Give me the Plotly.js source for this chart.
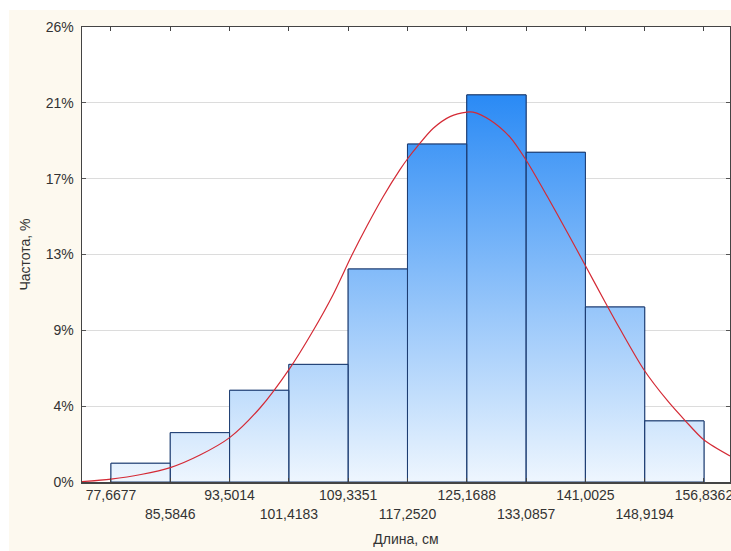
<!DOCTYPE html>
<html>
<head>
<meta charset="utf-8">
<script src="https://cdn.plot.ly/plotly-3.0.1.min.js"></script>
<style>html,body{margin:0;padding:0;background:#fff;}#chart{width:731px;height:551px;}</style>
</head>
<body>
<div id="chart"></div>
<script>
// Bin edges (cm) and tick labels
const binEdges = [77.6677, 85.5846, 93.5014, 101.4183, 109.3351, 117.2520, 125.1688, 133.0857, 141.0025, 148.9194, 156.8362];
const xTickLabels = ['77,6677','85,5846','93,5014','101,4183','109,3351','117,2520','125,1688','133,0857','141,0025','148,9194','156,8362'];
// Bar frequencies, %
const freqPct = [1.07, 2.82, 5.24, 6.72, 12.17, 19.31, 22.12, 18.84, 10.0, 3.49];
// Fitted curve
const curveX = [73.80, 77.67, 81.67, 85.58, 89.55, 93.55, 97.56, 101.56, 104.63, 107.30, 109.84, 111.84, 113.98, 116.25, 117.32, 118.52, 120.66, 122.93, 125.20, 126.00, 128.27, 130.94, 133.08, 135.89, 138.56, 140.96, 143.63, 145.63, 148.84, 151.99, 154.26, 156.84, 160.31];
const curveY = [0.02, 0.17, 0.43, 0.82, 1.54, 2.55, 4.23, 6.51, 8.63, 10.69, 12.97, 14.63, 16.29, 17.85, 18.50, 19.15, 20.20, 20.88, 21.14, 21.14, 20.69, 19.71, 18.40, 16.34, 14.29, 12.40, 10.29, 8.74, 6.40, 4.63, 3.54, 2.40, 1.49];
// Y tick labels
const yTickLabels = ['0%','4%','9%','13%','17%','21%','26%'];
const yMax = 26;

const binW = binEdges[1] - binEdges[0];
const centers = freqPct.map((_, i) => (binEdges[i] + binEdges[i + 1]) / 2);

// gradient fill polygons built from bin edges and heights
const gx = [], gy = [];
freqPct.forEach((h, i) => {
  const a = binEdges[i], b = binEdges[i + 1];
  gx.push(a, a, b, b, a, null);
  gy.push(0, h, h, 0, 0, null);
});

const font = {family: 'Liberation Sans, Arial, sans-serif', size: 14, color: '#333'};
const yTickVals = yTickLabels.map((_, i) => i * yMax / (yTickLabels.length - 1));

const traces = [
  {
    type: 'scatter', mode: 'lines', x: gx, y: gy, fill: 'toself',
    line: {color: '#1d3d72', width: 1},
    fillgradient: {type: 'vertical', start: 0, stop: Math.max(...freqPct),
      colorscale: [[0, '#eef6fe'], [1, '#2a8af5']]},
    hoverinfo: 'skip', showlegend: false
  },
  {
    type: 'bar', x: centers, y: freqPct, width: binW,
    marker: {color: 'rgba(0,0,0,0)', line: {color: '#1d3d72', width: 1}},
    showlegend: false
  },
  {
    type: 'scatter', mode: 'lines', x: curveX, y: curveY,
    line: {color: '#d42a35', width: 1.2, shape: 'spline', smoothing: 0.8},
    showlegend: false
  }
];

const layout = {
  width: 731, height: 551,
  margin: {l: 82, r: 1, t: 27, b: 69, pad: 0},
  paper_bgcolor: '#fdf9ef', plot_bgcolor: '#ffffff',
  font: font, bargap: 0,
  xaxis: {
    range: [73.80, 160.31], showgrid: false, zeroline: false,
    tickmode: 'array', tickvals: binEdges,
    ticktext: xTickLabels.map((t, i) => i % 2 ? '<br>' + t : t),
    tickangle: 0,
    ticks: 'inside', ticklen: 4, tickcolor: '#444',
    showline: true, mirror: 'ticks', linecolor: '#444', linewidth: 1.5,
    tickfont: font, ticklabeloverflow: 'allow',
    title: {text: 'Длина, см', font: font, standoff: 13}
  },
  yaxis: {
    range: [0, yMax], zeroline: false,
    tickmode: 'array', tickvals: yTickVals, ticktext: yTickLabels,
    showgrid: true, gridcolor: '#dcdcdc', gridwidth: 1,
    ticks: 'inside', ticklen: 4, tickcolor: '#555',
    showline: true, mirror: 'ticks', linecolor: '#444', linewidth: 1.5,
    tickfont: font, ticklabelstandoff: 4,
    title: {text: 'Частота, %', font: font, standoff: 12}
  },
  shapes: [
    {type: 'rect', xref: 'paper', yref: 'paper', x0: -0.2, x1: -73 / 648, y0: -0.5, y1: 1.2,
     fillcolor: '#ffffff', line: {width: 0}, layer: 'below'},
    {type: 'rect', xref: 'paper', yref: 'paper', x0: -0.2, x1: 1.2, y0: 472 / 455, y1: 1.2,
     fillcolor: '#ffffff', line: {width: 0}, layer: 'below'}
  ]
};

Plotly.newPlot('chart', traces, layout, {displayModeBar: false, staticPlot: true});
</script>
</body>
</html>
